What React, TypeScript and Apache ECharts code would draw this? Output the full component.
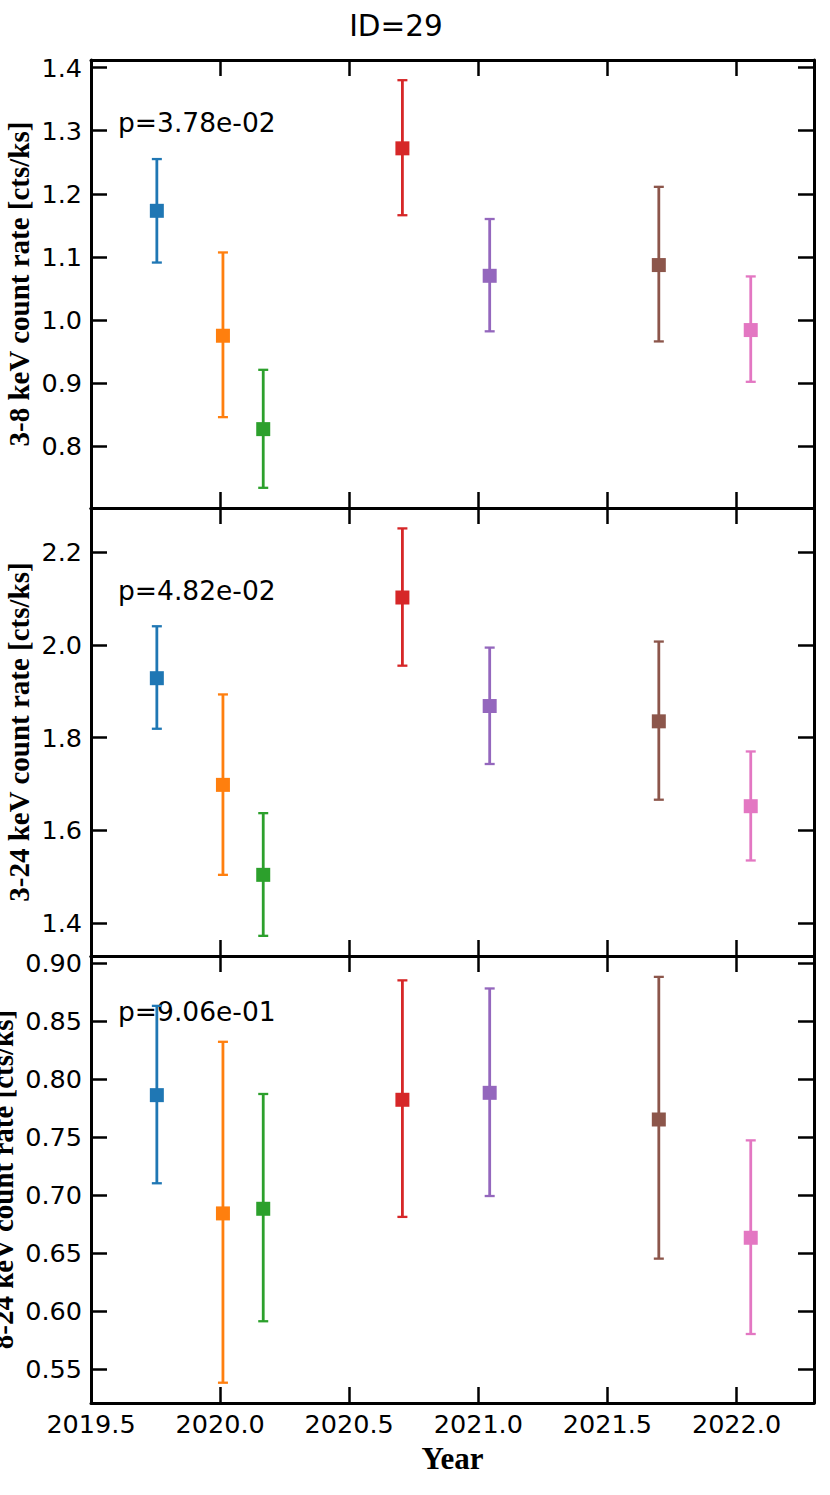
import React, { useEffect, useRef } from "react";
import * as echarts from "echarts";

// ---- data ----
const years = [2019.755, 2020.011, 2020.167, 2020.706, 2021.044, 2021.699, 2022.055];
const colors = ["#1f77b4", "#ff7f0e", "#2ca02c", "#d62728", "#9467bd", "#8c564b", "#e377c2"];

const rate38 = [1.173, 0.975, 0.827, 1.272, 1.07, 1.087, 0.984];
const lo38 = [1.091, 0.846, 0.734, 1.166, 0.982, 0.966, 0.902];
const hi38 = [1.255, 1.107, 0.921, 1.38, 1.16, 1.211, 1.069];

const rate324 = [1.928, 1.698, 1.504, 2.102, 1.868, 1.835, 1.652];
const lo324 = [1.819, 1.504, 1.3725, 1.955, 1.743, 1.666, 1.535];
const hi324 = [2.04, 1.893, 1.637, 2.251, 1.994, 2.007, 1.77];

const rate824 = [0.786, 0.684, 0.688, 0.782, 0.788, 0.765, 0.663];
const lo824 = [0.71, 0.538, 0.591, 0.681, 0.699, 0.645, 0.58];
const hi824 = [0.863, 0.832, 0.787, 0.885, 0.878, 0.888, 0.747];

const xTicks = [2019.5, 2020.0, 2020.5, 2021.0, 2021.5, 2022.0];
const yTicks38 = [0.8, 0.9, 1.0, 1.1, 1.2, 1.3, 1.4];
const yTicks324 = [1.4, 1.6, 1.8, 2.0, 2.2];
const yTicks824 = [0.55, 0.6, 0.65, 0.7, 0.75, 0.8, 0.85, 0.9];

const pTexts = ["p=3.78e-02", "p=4.82e-02", "p=9.06e-01"];
const yNames = [
  "3-8 keV count rate [cts/ks]",
  "3-24 keV count rate [cts/ks]",
  "8-24 keV count rate [cts/ks]",
];
const titleText = "ID=29";
const xName = "Year";

export default function App() {
  const ref = useRef<HTMLDivElement>(null);

  useEffect(() => {
    document.body.style.margin = "0";
    if (!ref.current) return;
    const chart = echarts.init(ref.current, undefined, { renderer: "svg" });

    const panels = [
      { rate: rate38, lo: lo38, hi: hi38, ticks: yTicks38, min: 0.702, max: 1.412, dec: 1, top: 60, height: 448 },
      { rate: rate324, lo: lo324, hi: hi324, ticks: yTicks324, min: 1.329, max: 2.295, dec: 1, top: 508, height: 448 },
      { rate: rate824, lo: lo824, hi: hi824, ticks: yTicks824, min: 0.5205, max: 0.906, dec: 2, top: 956, height: 447 },
    ];

    const LEFT = 91;
    const WIDTH = 723;
    const FONT = "DejaVu Sans";
    const SERIF = "Liberation Serif";
    const TICK_FS = 25.5;

    const grids: any[] = [];
    const xAxes: any[] = [];
    const yAxes: any[] = [];
    const series: any[] = [];

    const axisLine = { show: true, onZero: false, lineStyle: { color: "#000", width: 3 } };

    panels.forEach((p, i) => {
      grids.push({
        left: LEFT,
        top: p.top,
        width: WIDTH,
        height: p.height,
        containLabel: false,
        outerBoundsMode: "none",
      });
      [0, 1].forEach((k) => {
        xAxes.push({
          type: "value",
          gridIndex: i,
          position: k === 0 ? "bottom" : "top",
          min: 2019.5,
          max: 2022.3,
          axisLine,
          splitLine: { show: false },
          axisTick: {
            show: true,
            inside: true,
            length: 16,
            customValues: xTicks,
            lineStyle: { color: "#000", width: 2.5 },
          },
          axisLabel: {
            show: k === 0 && i === 2,
            customValues: xTicks,
            formatter: (v: number) => v.toFixed(1),
            fontSize: TICK_FS,
            fontFamily: FONT,
            color: "#000",
            margin: 8,
          },
        });
        yAxes.push({
          type: "value",
          gridIndex: i,
          position: k === 0 ? "left" : "right",
          min: p.min,
          max: p.max,
          axisLine,
          splitLine: { show: false },
          axisTick: {
            show: true,
            inside: true,
            length: 16,
            customValues: p.ticks,
            lineStyle: { color: "#000", width: 2.5 },
          },
          axisLabel: {
            show: k === 0,
            customValues: p.ticks,
            formatter: (v: number) => v.toFixed(p.dec),
            fontSize: TICK_FS,
            fontFamily: FONT,
            color: "#000",
            margin: 9,
          },
        });
      });

      series.push({
        type: "custom",
        xAxisIndex: 2 * i,
        yAxisIndex: 2 * i,
        clip: false,
        z: 2,
        encode: { x: 0, y: [1, 2] },
        data: years.map((x, j) => [x, p.lo[j], p.hi[j], j]),
        renderItem: (_params: any, api: any) => {
          const x = api.value(0);
          const a = api.coord([x, api.value(1)]);
          const b = api.coord([x, api.value(2)]);
          const c = colors[api.value(3)];
          const cap = 5;
          return {
            type: "group",
            children: [
              { type: "line", shape: { x1: a[0], y1: a[1], x2: b[0], y2: b[1] }, style: { stroke: c, lineWidth: 2.8 } },
              { type: "line", shape: { x1: b[0] - cap, y1: b[1], x2: b[0] + cap, y2: b[1] }, style: { stroke: c, lineWidth: 2.3 } },
              { type: "line", shape: { x1: a[0] - cap, y1: a[1], x2: a[0] + cap, y2: a[1] }, style: { stroke: c, lineWidth: 2.3 } },
            ],
          };
        },
      });
      series.push({
        type: "scatter",
        xAxisIndex: 2 * i,
        yAxisIndex: 2 * i,
        symbol: "rect",
        symbolSize: 14,
        z: 3,
        data: years.map((x, j) => ({ value: [x, p.rate[j]], itemStyle: { color: colors[j], opacity: 1 } })),
      });
    });

    const pY = [122, 590, 1011.5];
    const labelX = [19, 19, 2.5];
    const graphic: any[] = [
      {
        type: "text",
        x: 396,
        y: 26,
        style: { text: titleText, fontSize: 29.5, fontFamily: FONT, fill: "#000", align: "center", verticalAlign: "middle" },
      },
      {
        type: "text",
        x: 452.5,
        y: 1458,
        style: { text: xName, fontSize: 31, fontWeight: "bold", fontFamily: SERIF, fill: "#000", align: "center", verticalAlign: "middle" },
      },
    ];
    panels.forEach((p, i) => {
      graphic.push({
        type: "text",
        x: 118,
        y: pY[i],
        z: 1,
        style: { text: pTexts[i], fontSize: 26.5, fontFamily: FONT, fill: "#000", align: "left", verticalAlign: "middle" },
      });
      graphic.push({
        type: "text",
        x: labelX[i],
        y: p.top + p.height / 2,
        rotation: Math.PI / 2,
        style: {
          text: yNames[i],
          fontSize: 29,
          fontWeight: "bold",
          fontFamily: SERIF,
          fill: "#000",
          align: "center",
          verticalAlign: "middle",
        },
      });
    });

    chart.setOption({
      animation: false,
      backgroundColor: "#fff",
      grid: grids,
      xAxis: xAxes,
      yAxis: yAxes,
      series,
      graphic,
    });

    return () => chart.dispose();
  }, []);

  return <div ref={ref} style={{ width: 830, height: 1495 }} />;
}
